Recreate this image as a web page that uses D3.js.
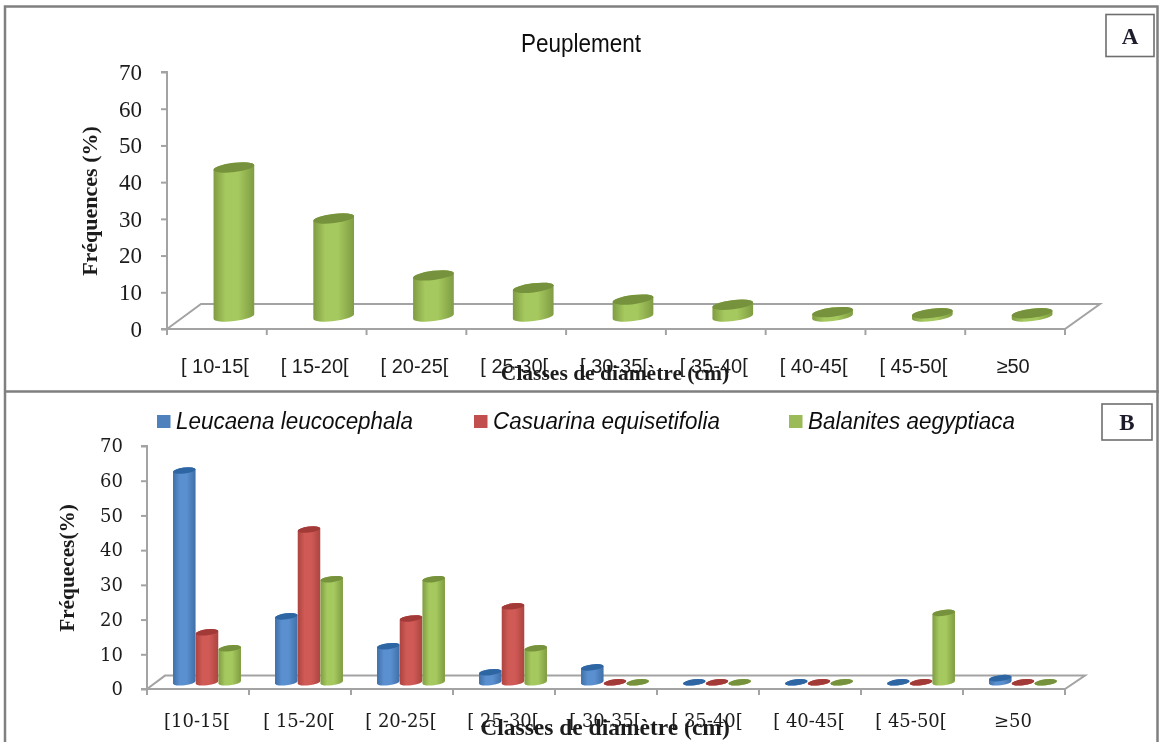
<!DOCTYPE html>
<html><head><meta charset="utf-8">
<script src="https://cdn.jsdelivr.net/npm/d3@7"></script>
<style>html,body{margin:0;padding:0;background:#fff;overflow:hidden}svg{display:block}</style>
</head><body><svg id="c" width="1166" height="742"></svg>
<script>
const categoriesA = ["[ 10-15[","[ 15-20[","[ 20-25[","[ 25-30[","[ 30-35[","[ 35-40[","[ 40-45[","[ 45-50[","≥50"];
const categoriesB = ["[10-15[","[ 15-20[","[ 20-25[","[ 25-30[","[ 30-35[","[ 35-40[","[ 40-45[","[ 45-50[","≥50"];
const yTicks = [0,10,20,30,40,50,60,70];
const peuplement = [40.6,26.7,11.2,7.8,4.6,3.2,1.2,0.9,0.9];
const leucaena   = [61,19,10.4,2.9,4.3,0,0,0,1.2];
const casuarina  = [14.4,44,18.4,21.9,0,0,0,0,0];
const balanites  = [9.8,29.7,29.7,9.8,0,0,0,20,0];
const seriesNames = ["Leucaena leucocephala","Casuarina equisetifolia","Balanites aegyptiaca"];

const COL = {blue:["#3f6fa8","#5a90cf","#2f66a3"],red:["#ac4441","#d05a56","#a23a38"],green:["#7f9c42","#a6c95f","#76923c"]};
const GREY = "#a3a3a3", FRAME = "#808080";
const svg = d3.select("#c");
const defs = svg.append("defs");
defs.append("filter").attr("id","soft").attr("x","-2%").attr("y","-2%").attr("width","104%").attr("height","104%")
  .append("feGaussianBlur").attr("stdDeviation",0.5);
Object.entries(COL).forEach(([k,c])=>{
  const g = defs.append("linearGradient").attr("id","g-"+k);
  [[0,c[0]],[0.3,c[1]],[0.6,c[1]],[1,c[0]]].forEach(([o,col])=>g.append("stop").attr("offset",o).attr("stop-color",col));
});
const root = svg.append("g").attr("filter","url(#soft)");

// frames
root.append("path").attr("fill","none").attr("stroke",FRAME).attr("stroke-width",2.5)
  .attr("d","M5,742V6.5H1157.5V742M5,391.5H1159");

function labelBox(x,y,w,h,t){
  root.append("rect").attr("x",x).attr("y",y).attr("width",w).attr("height",h)
    .attr("fill","#fff").attr("stroke","#6e6e6e").attr("stroke-width",1.6);
  root.append("text").attr("x",x+w/2).attr("y",y+h/2+8).attr("text-anchor","middle")
    .attr("font-family","Liberation Serif").attr("font-weight","bold").attr("font-size",23).attr("fill","#1b1b2a").text(t);
}

function panel(o){
  const g = root.append("g");
  const y = d3.scaleLinear().domain([0,70]).range([o.y0,o.y70]);
  const x = d3.scaleBand().domain(o.cats).range([o.x0,o.x1]);
  const x1 = d3.scaleBand().domain(d3.range(o.series.length)).range([0,o.barW*o.series.length]);
  // floor
  g.append("path").attr("fill","none").attr("stroke",GREY).attr("stroke-width",2)
    .attr("d",`M${o.x0},${o.y0}L${o.x0+o.dx},${o.y0-o.dy}H${o.x1+o.dxr}L${o.x1},${o.y0}Z`);
  // y axis
  const ay = g.append("g").attr("transform",`translate(${o.x0},0)`)
    .call(d3.axisLeft(y).tickValues(yTicks).tickSize(6).tickPadding(o.yPad));
  ay.selectAll("path,line").attr("stroke",GREY).attr("stroke-width",2);
  ay.selectAll("text").attr("font-family",o.yFont).attr("font-size",o.yFs).attr("fill","#1a1a1a");
  ay.select(".domain").attr("d",`M-6,${o.y70}H0V${o.y0}H-6`);
  // x axis
  const ax = g.append("g").attr("transform",`translate(0,${o.y0})`)
    .call(d3.axisBottom(x).tickSize(0).tickPadding(o.xPad));
  ax.select(".domain").remove();
  ax.selectAll("text").attr("font-family",o.xFont).attr("font-size",o.xFs).attr("fill","#1a1a1a").attr("dx",o.xLabelDx);
  g.append("g").selectAll("line").data(d3.range(o.cats.length+1)).join("line")
    .attr("x1",i=>o.x0+i*x.step()).attr("x2",i=>o.x0+i*x.step())
    .attr("y1",o.y0).attr("y2",o.y0+6).attr("stroke",GREY).attr("stroke-width",2);
  // cylinders
  const th = -7*Math.PI/180;
  o.series.forEach((s,si)=>{
    const rx = o.barW/2, ry = o.ry;
    const ex = rx*Math.cos(th), ey = rx*Math.sin(th);
    const off = (x.bandwidth()-o.barW*o.series.length)/2 + o.dx/2;
    const sg = g.append("g").selectAll("g").data(s.values).join("g")
      .attr("transform",(d,i)=>`translate(${x(o.cats[i])+off+x1(si)+rx},${-o.dy/2})`);
    sg.append("path").attr("fill",`url(#g-${s.color})`)
      .attr("d",d=>{const t=y(d),b=o.y0;
        return `M${-ex},${t-ey}L${-ex},${b-ey}A${rx},${ry} -7 0 0 ${ex},${b+ey}L${ex},${t+ey}A${rx},${ry} -7 0 0 ${-ex},${t-ey}Z`;});
    sg.append("ellipse").attr("rx",rx).attr("ry",ry).attr("cx",0)
      .attr("transform",d=>`translate(0,${y(d)}) rotate(-7)`)
      .attr("fill",COL[s.color][2]);
  });
  // axis titles
  g.append("text").attr("x",o.xtX).attr("y",o.xtY).attr("text-anchor","middle")
    .attr("font-family","Liberation Serif").attr("font-weight","bold").attr("font-size",o.xtFs).attr("fill","#1a1a1a").text(o.xTitle);
  g.append("text").attr("transform",`translate(${o.ytX},${o.ytY}) rotate(-90)`).attr("text-anchor","middle")
    .attr("font-family","Liberation Serif").attr("font-weight","bold").attr("font-size",o.ytFs).attr("fill","#1a1a1a").text(o.yTitle);
}

panel({cats:categoriesA,series:[{color:"green",values:peuplement}],
  x0:167,x1:1065,y0:329,y70:72,dx:34,dxr:35,dy:25,barW:41,ry:4.6,
  yFont:"Liberation Serif",yFs:23,yPad:19,xFont:"Liberation Sans",xFs:20,xPad:30,xLabelDx:-2,
  xTitle:"Classes de diamètre (cm)",xtX:615,xtY:380,xtFs:21.5,
  yTitle:"Fréquences (%)",ytX:97,ytY:201,ytFs:22});
panel({cats:categoriesB,series:[{color:"blue",values:leucaena},{color:"red",values:casuarina},{color:"green",values:balanites}],
  x0:147,x1:1065,y0:689,y70:446,dx:18,dxr:20,dy:13.4,barW:22.7,ry:3,
  yFont:"DejaVu Serif",yFs:18,yPad:18,xFont:"DejaVu Serif",xFs:18,xPad:25,xLabelDx:-1,
  xTitle:"Classes de diamètre (cm)",xtX:605,xtY:735,xtFs:23.5,
  yTitle:"Fréqueces(%)",ytX:74,ytY:568,ytFs:21.3});

// title
root.append("text").attr("x",581).attr("y",52).attr("text-anchor","middle")
  .attr("font-family","Liberation Sans").attr("font-size",25)
  .attr("textLength",120).attr("lengthAdjust","spacingAndGlyphs").attr("fill","#111").text("Peuplement");

// legend
const legendX = d3.scaleOrdinal().domain(seriesNames).range([157,474,789]);
const legendW = d3.scaleOrdinal().domain(seriesNames).range([237,227,207]);
const legendC = d3.scaleOrdinal().domain(seriesNames).range(["#4f81bd","#c0504d","#9bbb59"]);
const lg = root.append("g").selectAll("g").data(seriesNames).join("g");
lg.append("rect").attr("x",d=>legendX(d)).attr("y",415).attr("width",13.5).attr("height",13).attr("fill",d=>legendC(d));
lg.append("text").attr("x",d=>legendX(d)+19).attr("y",428.5)
  .attr("font-family","Liberation Sans").attr("font-style","italic").attr("font-size",23).attr("fill","#111")
  .attr("textLength",d=>legendW(d)).attr("lengthAdjust","spacingAndGlyphs").text(d=>d);

labelBox(1106,14.5,48,42,"A");
labelBox(1102,404,50,36,"B");
</script></body></html>
